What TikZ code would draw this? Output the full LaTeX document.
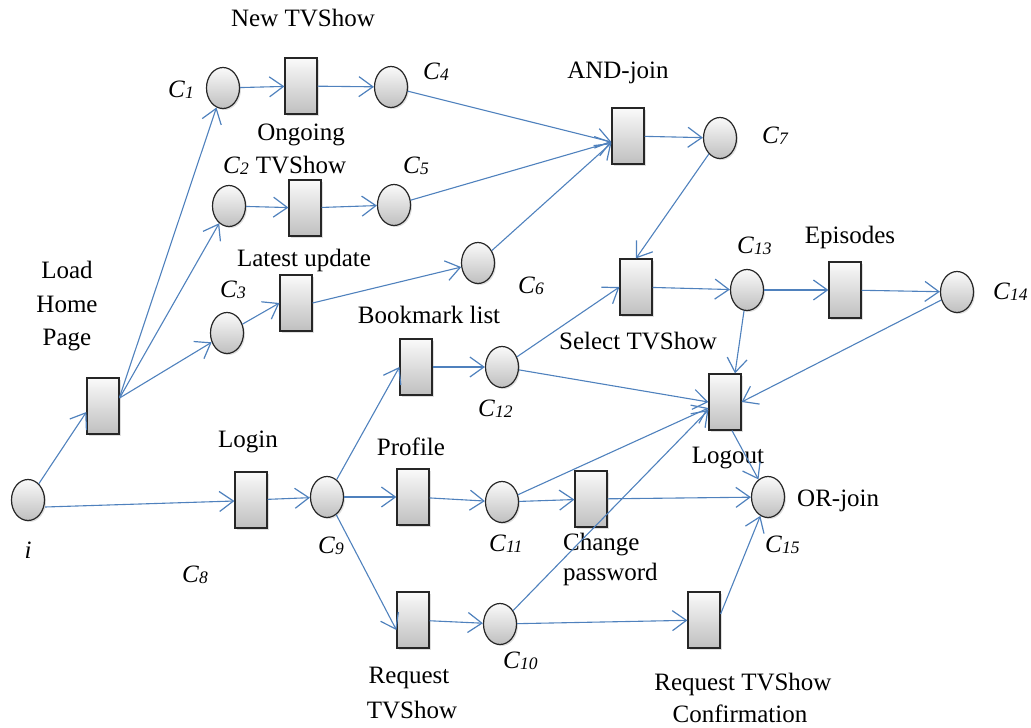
\documentclass[tikz,border=0pt]{standalone}
\usepackage{fontspec}
\setmainfont{Liberation Serif}
\usetikzlibrary{arrows.meta,shapes.geometric,shadows}
\definecolor{flowblue}{RGB}{79,129,189}
% condition label: italic C with a small, slightly lowered index
\newcommand\cond[1]{\textit{C\kern0.3pt\raisebox{-1.2pt}{\fontsize{17.5}{17.5}\selectfont #1}}}
\begin{document}
\begin{tikzpicture}[x=1pt,y=1pt,
  every node/.style={font=\fontsize{25}{33}\selectfont},
  pplace/.style={ellipse, draw=black!85, line width=1.2pt, minimum width=33pt,
    minimum height=41pt, inner sep=0pt, top color=gray!4, bottom color=gray!50,
    drop shadow={opacity=0.25, shadow xshift=1.5pt, shadow yshift=-1.5pt}},
  ttrans/.style={rectangle, draw=black!85, line width=1.2pt, minimum width=32pt,
    minimum height=56pt, inner sep=0pt, top color=gray!4, bottom color=gray!50,
    drop shadow={opacity=0.25, shadow xshift=1.5pt, shadow yshift=-1.5pt}},
  lbl/.style={inner sep=0pt, anchor=base},
  lblw/.style={inner sep=0pt, anchor=base west},
  >={Straight Barb[length=14pt,width=20pt,line width=1.2pt]},
  flow/.style={draw=flowblue, line width=1.1pt, ->}]
\useasboundingbox (0,0) rectangle (1031,-728);

% places
\node[pplace] (i)   at (28,-500)  {};
\node[pplace] (c1)  at (223,-88)  {};
\node[pplace] (c2)  at (229,-206) {};
\node[pplace] (c3)  at (227,-333) {};
\node[pplace] (c4)  at (391,-87)  {};
\node[pplace] (c5)  at (394,-205) {};
\node[pplace] (c6)  at (478,-263) {};
\node[pplace] (c7)  at (720,-138) {};
\node[pplace] (c9)  at (327,-497) {};
\node[pplace] (c10) at (500,-624) {};
\node[pplace] (c11) at (502,-502) {};
\node[pplace] (c12) at (502,-367) {};
\node[pplace] (c13) at (747,-290) {};
\node[pplace] (c14) at (957,-292) {};
\node[pplace] (c15) at (768,-497) {};

% transitions
\node[ttrans] (load)     at (103,-406) {};
\node[ttrans] (newtv)    at (301,-86)  {};
\node[ttrans] (ongoing)  at (305,-208) {};
\node[ttrans] (latest)   at (296,-303) {};
\node[ttrans] (andj)     at (628,-136) {};
\node[ttrans] (select)   at (636,-287) {};
\node[ttrans] (episodes) at (845,-290) {};
\node[ttrans] (logout)   at (725,-402) {};
\node[ttrans] (login)    at (251,-500) {};
\node[ttrans] (bookmark) at (416,-367) {};
\node[ttrans] (profile)  at (413,-497) {};
\node[ttrans] (chpw)     at (591,-499) {};
\node[ttrans] (request)  at (413,-620) {};
\node[ttrans] (confirm)  at (704,-620) {};

% transition names
\node[lbl] (tNew)   at (303,-27)  {New TVShow};
\node[lbl] (tOng)   at (301,-140) {Ongoing};
\node[lbl] (tOngB)  at (301,-173) {TVShow};
\node[lbl] (tLat)   at (304,-266) {Latest update};
\node[lbl] (tLoadA) at (67,-278)  {Load};
\node[lbl] (tLoadB) at (67,-312)  {Home};
\node[lbl] (tLoadC) at (67,-345)  {Page};
\node[lbl] (tLogin) at (248,-447) {Login};
\node[lbl] (tAnd)   at (618,-78)  {AND-join};
\node[lbl] (tEp)    at (850,-243) {Episodes};
\node[lbl] (tBook)  at (429,-323) {Bookmark list};
\node[lbl] (tSel)   at (638,-349) {Select TVShow};
\node[lbl] (tOut)   at (728,-463) {Logout};
\node[lbl] (tProf)  at (411,-455) {Profile};
\node[lblw] (tChA)  at (563,-550) {Change};
\node[lblw] (tChB)  at (563,-580) {password};
\node[lblw] (tOr)   at (797,-506) {OR-join};
\node[lbl] (tReqA)  at (409,-683) {Request};
\node[lbl] (tReqB)  at (412,-718) {TVShow};
\node[lbl] (tCfA)   at (743,-690) {Request TVShow};
\node[lbl] (tCfB)   at (740,-722) {Confirmation};

% condition names
\node[lbl]  (li)   at (28,-558)  {\textit{i}};
\node[lblw] (l1)   at (168,-97)  {\cond{1}};
\node[lblw] (l2)   at (223,-173) {\cond{2}};
\node[lblw] (l3)   at (220,-297) {\cond{3}};
\node[lblw] (l4)   at (423,-79)  {\cond{4}};
\node[lblw] (l5)   at (403,-173) {\cond{5}};
\node[lblw] (l6)   at (518,-293) {\cond{6}};
\node[lblw] (l7)   at (762,-143) {\cond{7}};
\node[lblw] (l8)   at (182,-582) {\cond{8}};
\node[lblw] (l9)   at (318,-553) {\cond{9}};
\node[lblw] (l10)  at (503,-668) {\cond{10}};
\node[lblw] (l11)  at (489,-551) {\cond{11}};
\node[lblw] (l12)  at (478,-416) {\cond{12}};
\node[lblw] (l13)  at (737,-253) {\cond{13}};
\node[lblw] (l14)  at (993,-299) {\cond{14}};
\node[lblw] (l15)  at (765,-552) {\cond{15}};

% flow arcs
\draw[flow] (i) -- ([yshift=-6pt]load.west);
\draw[flow] ([yshift=-7pt]i.east) -- ([yshift=-1pt]login.west);
\draw[flow] ([yshift=9pt]load.east) -- (c1);
\draw[flow] ([yshift=8pt]load.east) -- (c2);
\draw[flow] ([yshift=8pt]load.east) -- (c3);
\draw[flow] (c1) -- (newtv);
\draw[flow] (newtv) -- (c4);
\draw[flow] (c2) -- (ongoing);
\draw[flow] (ongoing) -- (c5);
\draw[flow] (c3) -- (latest.west);
\draw[flow] (latest.east) -- (c6);
\draw[flow] (c4) -- ([yshift=-6pt]andj.west);
\draw[flow] (c5) -- ([yshift=-6pt]andj.west);
\draw[flow] (c6) -- ([yshift=-7pt]andj.west);
\draw[flow] (andj) -- (c7);
\draw[flow] (c7) -- (select.north);
\draw[flow] (select) -- (c13);
\draw[flow] (c13) -- (episodes);
\draw[flow] (episodes) -- (c14);
\draw[flow] (c13) -- ([xshift=10pt]logout.north);
\draw[flow] (c14) -- (logout.east);
\draw[flow] ([xshift=7pt]logout.south) -- (c15);
\draw[flow] (login) -- (c9);
\draw[flow] (c9) -- (bookmark.west);
\draw[flow] (c9) -- (profile);
\draw[flow] (c9) -- ([yshift=-10pt]request.west);
\draw[flow] (bookmark) -- (c12);
\draw[flow] (c12) -- (select.west);
\draw[flow] (c12) -- (logout.west);
\draw[flow] (profile) -- (c11);
\draw[flow] (c11) -- ([yshift=-6pt]logout.west);
\draw[flow] (c11) -- (chpw);
\draw[flow] (chpw) -- (c15);
\draw[flow] (request) -- (c10);
\draw[flow] (c10) -- ([yshift=-8pt]logout.west);
\draw[flow] (c10) -- (confirm);
\draw[flow] ([yshift=6pt]confirm.east) -- (c15);
\end{tikzpicture}
\end{document}
